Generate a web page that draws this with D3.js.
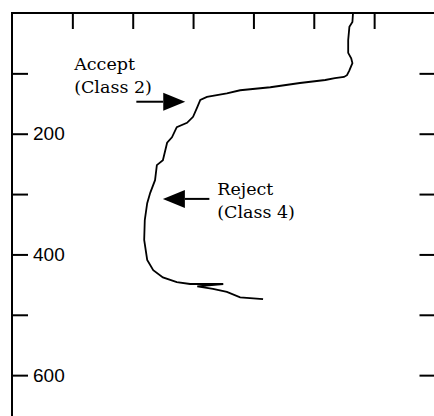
<!DOCTYPE html>
<html>
<head>
<meta charset="utf-8">
<script src="https://cdn.jsdelivr.net/npm/d3@7"></script>
<style>
  body { margin: 0; background: #fff; }
  svg { display: block; }
</style>
</head>
<body>
<svg id="chart" width="434" height="416"></svg>
<script>
// traced profile: horizontal value vs depth (depth grows downward)
const profileX = [5.65, 5.64, 5.59, 5.57, 5.57, 5.62, 5.64, 5.59, 5.55, 5.50, 5.35, 5.19,
  4.77, 4.28, 3.78, 3.56, 3.23, 3.12, 3.07, 3.00, 2.90, 2.73, 2.65, 2.57, 2.50, 2.40,
  2.37, 2.29, 2.24, 2.20, 2.19, 2.24, 2.34, 2.50, 2.73, 2.95, 3.50, 3.07, 3.33, 3.56,
  3.78, 4.16];
const profileDepth = [0, 15, 23, 45, 66, 75, 83, 95, 103, 106, 108, 111,
  116, 123, 128, 133, 139, 144, 156, 172, 182, 189, 206, 215, 244, 252,
  277, 298, 315, 343, 376, 409, 426, 438, 446, 449, 449, 453, 457, 462,
  471, 474];

const xTicks = [1, 2, 3, 4, 5, 6];
const depthTicks = [100, 200, 300, 400, 500, 600];
const depthLabels = [200, 400, 600];

const notes = [
  { lines: ["Accept", "(Class 2)"], x: 1.03, depth: 94, tail: 2.06, tip: 2.87, arrowDepth: 147 },
  { lines: ["Reject", "(Class 4)"], x: 3.40, depth: 301, tail: 3.27, tip: 2.50, arrowDepth: 308 }
];

const svg = d3.select("#chart");
const mLeft = 12, mTop = 13, mRight = 434.5, mBottom = 435.5;

const x = d3.scaleLinear().domain([0, 7]).range([mLeft, mRight]);
const y = d3.scaleLinear().domain([0, 700]).range([mTop, mBottom]);

// frame
svg.append("line").attr("x1", mLeft).attr("x2", mRight + 2).attr("y1", mTop).attr("y2", mTop)
  .attr("stroke", "#000").attr("stroke-width", 2);
svg.append("line").attr("x1", mLeft).attr("x2", mLeft).attr("y1", mTop - 1).attr("y2", 420)
  .attr("stroke", "#000").attr("stroke-width", 2);

// top ticks (inward)
svg.append("g")
  .attr("transform", `translate(0,${mTop})`)
  .call(d3.axisBottom(x).tickValues(xTicks).tickSize(16).tickFormat(""))
  .call(g => g.select(".domain").remove())
  .call(g => g.selectAll("line").attr("stroke-width", 2));

// left ticks + labels
svg.append("g")
  .attr("transform", `translate(${mLeft},0)`)
  .call(d3.axisRight(y).tickValues(depthTicks).tickSize(16).tickPadding(5)
    .tickFormat(d => depthLabels.includes(d) ? d : ""))
  .call(g => g.select(".domain").remove())
  .call(g => g.selectAll("line").attr("stroke-width", 2))
  .call(g => g.selectAll("text")
    .attr("font-family", "Liberation Sans, Arial, sans-serif")
    .attr("font-size", 19).attr("fill", "#000"));

// right ticks
svg.append("g")
  .attr("transform", `translate(${mRight},0)`)
  .call(d3.axisLeft(y).tickValues(depthTicks).tickSize(15).tickFormat(""))
  .call(g => g.select(".domain").remove())
  .call(g => g.selectAll("line").attr("stroke-width", 2));

// profile line
const pts = profileX.map((v, i) => [v, profileDepth[i]]);
svg.append("path")
  .datum(pts)
  .attr("d", d3.line().x(d => x(d[0])).y(d => y(d[1])))
  .attr("fill", "none")
  .attr("stroke", "#000")
  .attr("stroke-width", 1.8)
  .attr("stroke-linejoin", "miter");

// annotations
notes.forEach(n => {
  const t = svg.append("text")
    .attr("x", x(n.x)).attr("y", y(n.depth))
    .attr("font-family", "DejaVu Serif, serif")
    .attr("font-size", 17.5)
    .attr("fill", "#000");
  n.lines.forEach((s, i) => {
    t.append("tspan").attr("x", x(n.x)).attr("dy", i === 0 ? 0 : 23).text(s);
  });

  const ay = y(n.arrowDepth);
  const dir = Math.sign(n.tip - n.tail);
  const headLen = 22, half = 9;
  const tipX = x(n.tip), baseX = tipX - dir * headLen;
  svg.append("line")
    .attr("x1", x(n.tail)).attr("x2", baseX)
    .attr("y1", ay).attr("y2", ay)
    .attr("stroke", "#000").attr("stroke-width", 2);
  svg.append("path")
    .attr("d", `M${tipX},${ay}L${baseX},${ay - half}L${baseX},${ay + half}Z`)
    .attr("fill", "#000");
});
</script>
</body>
</html>
